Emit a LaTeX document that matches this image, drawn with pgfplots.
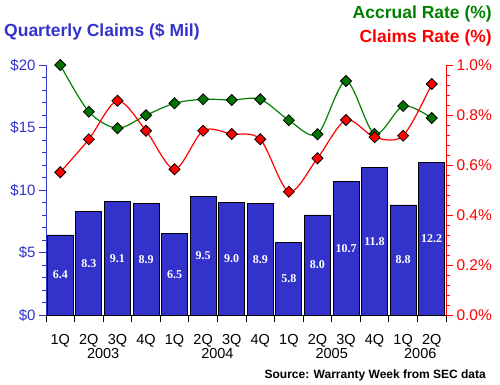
\documentclass[border=0pt]{standalone}
\usepackage{pgfplots}
\pgfplotsset{compat=1.18}
\usepackage{fontspec}
\setmainfont{Liberation Sans}
\newfontfamily\serifb{Liberation Serif}
\definecolor{cblue}{RGB}{51,51,204}
\definecolor{cgreen}{RGB}{0,128,0}
\definecolor{cred}{RGB}{255,0,0}
\begin{document}
\begin{tikzpicture}
\path[use as bounding box] (0,0) rectangle (500pt,385pt);
\begin{axis}[
  at={(46pt,70pt)}, anchor=south west, scale only axis,
  width=400pt, height=250pt,
  xmin=-0.5, xmax=13.5, ymin=0, ymax=20,
  axis x line*=bottom, axis y line*=left,
  x axis line style={black, -, line width=0.9pt},
  y axis line style={cblue, -, line width=0.9pt},
  xtick={-0.5,0.5,...,13.5}, xticklabels={},
  ytick={0,5,10,15,20}, yticklabels={\$0,\$5,\$10,\$15,\$20},
  minor y tick num=4,
  tick align=outside, major tick length=7pt, minor tick length=4pt,
  ytick style={cblue, line width=0.9pt},
  xtick style={black, line width=0.9pt},
  yticklabel style={font=\fontsize{15}{18}\selectfont, text=cblue},
  clip=false,
]
\addplot[ybar, bar width=26pt, fill=cblue, draw=black, line width=0.9pt]
  coordinates {(0,6.4) (1,8.3) (2,9.1) (3,8.9) (4,6.5) (5,9.5) (6,9.0) (7,8.9) (8,5.8) (9,8.0) (10,10.7) (11,11.8) (12,8.8) (13,12.2)};
\addplot[draw=none, mark=none, nodes near coords, point meta=explicit symbolic,
  every node near coord/.style={anchor=center, text=white, font=\serifb\bfseries\fontsize{12}{14}\selectfont}]
  coordinates {(0,3.2)[6.4] (1,4.15)[8.3] (2,4.55)[9.1] (3,4.45)[8.9] (4,3.25)[6.5] (5,4.75)[9.5] (6,4.5)[9.0] (7,4.45)[8.9] (8,2.9)[5.8] (9,4.0)[8.0] (10,5.35)[10.7] (11,5.9)[11.8] (12,4.4)[8.8] (13,6.1)[12.2]};
\node[font=\fontsize{14.5}{17}\selectfont, anchor=base] at (axis cs:1.5,0) [yshift=-44pt] {2003};
\node[font=\fontsize{14.5}{17}\selectfont, anchor=base] at (axis cs:5.5,0) [yshift=-44pt] {2004};
\node[font=\fontsize{14.5}{17}\selectfont, anchor=base] at (axis cs:9.5,0) [yshift=-44pt] {2005};
\node[font=\fontsize{14.5}{17}\selectfont, anchor=base] at (axis cs:12.6,0) [yshift=-44pt] {2006};
\end{axis}
\begin{axis}[
  at={(46pt,70pt)}, anchor=south west, scale only axis,
  width=400pt, height=250pt,
  xmin=-0.5, xmax=13.5, ymin=0, ymax=1,
  axis x line*=bottom, axis y line*=right,
  x axis line style={draw=none},
  y axis line style={cred, -, line width=0.9pt},
  xtick={0,...,13},
  xticklabels={1Q,2Q,3Q,4Q,1Q,2Q,3Q,4Q,1Q,2Q,3Q,4Q,1Q,2Q},
  xtick style={draw=none},
  xticklabel style={font=\fontsize{14.5}{17}\selectfont, anchor=base, yshift=-22pt},
  ytick={0,0.2,0.4,0.6,0.8,1.0},
  yticklabels={0.0\%,0.2\%,0.4\%,0.6\%,0.8\%,1.0\%},
  minor y tick num=4,
  tick align=outside, major tick length=7pt, minor tick length=4pt,
  ytick style={cred, line width=0.9pt},
  yticklabel style={font=\fontsize{15.5}{18}\selectfont, text=cred},
  clip=false,
]
\addplot[cgreen, line width=1.2pt, smooth, tension=0.5, mark=square*,
  mark size=3.9pt, mark options={rotate=45, fill=cgreen!90!black, draw=black, line width=0.8pt}]
  coordinates {(0,1.000) (1,0.813) (2,0.747) (3,0.799) (4,0.847) (5,0.863) (6,0.860) (7,0.863) (8,0.779) (9,0.723) (10,0.936) (11,0.724) (12,0.836) (13,0.788)};
\addplot[cred, line width=1.2pt, smooth, tension=0.5, mark=square*,
  mark size=3.9pt, mark options={rotate=45, fill=cred, draw=black, line width=0.8pt}]
  coordinates {(0,0.571) (1,0.703) (2,0.857) (3,0.737) (4,0.583) (5,0.737) (6,0.724) (7,0.703) (8,0.493) (9,0.627) (10,0.780) (11,0.711) (12,0.717) (13,0.924)};
\end{axis}
\node[anchor=west, inner sep=0pt, text=cblue, font=\bfseries\fontsize{17.5}{20}\selectfont] at (4pt,353pt) {Quarterly Claims (\$ Mil)};
\node[anchor=east, inner sep=0pt, text=cgreen, font=\bfseries\fontsize{17.5}{20}\selectfont] at (492pt,371pt) {Accrual Rate (\%)};
\node[anchor=east, inner sep=0pt, text=cred, font=\bfseries\fontsize{17.5}{20}\selectfont] at (492pt,347pt) {Claims Rate (\%)};
\node[anchor=east, inner sep=0pt, font=\bfseries\fontsize{12}{14}\selectfont] at (486pt,9.3pt) {Source: Warranty Week from SEC data};
\end{tikzpicture}
\end{document}
